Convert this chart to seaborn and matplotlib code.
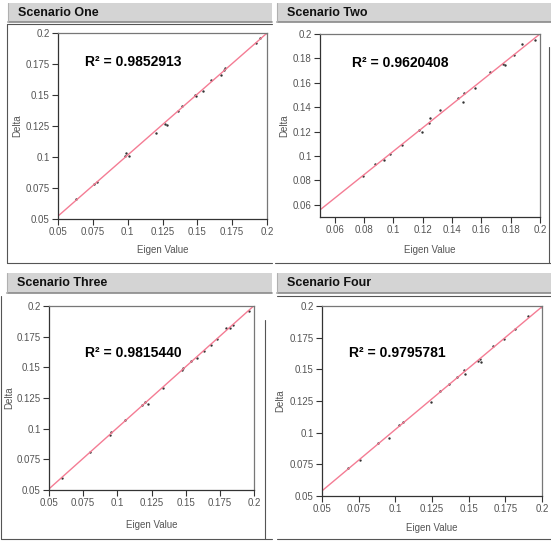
import matplotlib
matplotlib.use("Agg")
import matplotlib.pyplot as plt
from matplotlib.patches import Rectangle
from matplotlib.lines import Line2D
import seaborn as sns
import pandas as pd

sns.set_theme(style="white")
plt.rcParams['font.family'] = ['Liberation Sans', 'DejaVu Sans']

# ---------------- data ----------------
titles = ["Scenario One", "Scenario Two", "Scenario Three", "Scenario Four"]
r2_labels = ["0.9852913", "0.9620408", "0.9815440", "0.9795781"]

x1 = [0.063, 0.076, 0.078, 0.098, 0.099, 0.101, 0.120, 0.127, 0.128, 0.136, 0.139,
      0.148, 0.149, 0.154, 0.160, 0.167, 0.169, 0.170, 0.192, 0.195, 0.200]
y1 = [0.066, 0.078, 0.080, 0.101, 0.103, 0.101, 0.119, 0.127, 0.126, 0.137, 0.141,
      0.150, 0.149, 0.153, 0.162, 0.166, 0.170, 0.172, 0.192, 0.196, 0.200]

x2 = [0.0794, 0.0876, 0.0939, 0.0978, 0.106, 0.1177, 0.1197, 0.1248, 0.1246, 0.1319,
      0.144, 0.1477, 0.1483, 0.156, 0.1657, 0.1746, 0.1758, 0.182, 0.188, 0.1964]
y2 = [0.0837, 0.0938, 0.0968, 0.102, 0.1087, 0.121, 0.120, 0.131, 0.1267, 0.1381,
      0.1477, 0.1442, 0.152, 0.156, 0.1687, 0.1757, 0.1747, 0.1826, 0.1918, 0.1954]

x3 = [0.0592, 0.0798, 0.0944, 0.0957, 0.1056, 0.118, 0.1205, 0.1222, 0.1334, 0.1471,
      0.148, 0.1537, 0.1582, 0.1637, 0.1682, 0.1726, 0.1798, 0.1828, 0.1846, 0.196]
y3 = [0.0595, 0.0809, 0.0950, 0.0969, 0.1067, 0.1197, 0.1214, 0.1203, 0.1333, 0.1482,
      0.1493, 0.1553, 0.158, 0.1637, 0.1683, 0.1734, 0.1818, 0.1824, 0.1843, 0.1957]

x4 = [0.068, 0.0757, 0.0883, 0.0956, 0.1026, 0.1049, 0.1245, 0.1304, 0.1366, 0.1418,
      0.1469, 0.1475, 0.1562, 0.1576, 0.1587, 0.1669, 0.174, 0.1819, 0.1906, 0.200]
y4 = [0.0724, 0.0787, 0.0921, 0.096, 0.1063, 0.1081, 0.1242, 0.1326, 0.1387, 0.1437,
      0.1495, 0.1466, 0.1568, 0.1584, 0.1558, 0.1682, 0.1742, 0.1816, 0.1924, 0.1995]

ticks_025 = [0.05, 0.075, 0.1, 0.125, 0.15, 0.175, 0.2]
labels_025 = ["0.05", "0.075", "0.1", "0.125", "0.15", "0.175", "0.2"]
ticks_02 = [0.06, 0.08, 0.1, 0.12, 0.14, 0.16, 0.18, 0.2]
labels_02 = ["0.06", "0.08", "0.1", "0.12", "0.14", "0.16", "0.18", "0.2"]

xs = [x1, x2, x3, x4]
ys = [y1, y2, y3, y4]
xticks = [ticks_025, ticks_02, ticks_025, ticks_025]
xlabels = [labels_025, labels_02, labels_025, labels_025]
yticks = [ticks_025, ticks_02, ticks_025, ticks_025]
ylabels = [labels_025, labels_02, labels_025, labels_025]

# ---------------- layout ----------------
W, H = 551, 542
fig = plt.figure(figsize=(W / 100, H / 100), dpi=100)
fig.patch.set_facecolor("white")


def rect(l, t, r, b):
    return [l / W, 1 - b / H, (r - l) / W, (b - t) / H]


axes_px = [(58, 33, 267, 219), (320, 34, 540, 217), (49, 306, 254, 490), (322, 306, 542, 496)]
headers = [(8, 3, 272, 22), (277, 3, 551, 22), (7, 273, 272, 293), (277, 273, 551, 293)]
r2_pos = [(0.13, 0.845), (0.145, 0.84), (0.176, 0.745), (0.123, 0.753)]
ylab_pos = [-0.17, -0.14, -0.17, -0.165]
xlab_pos = [-0.14, -0.155, -0.165, -0.143]

# header bars
for (l, t, r, b), title in zip(headers, titles):
    fig.add_artist(Rectangle((l / W, 1 - b / H), (r - l) / W, (b - t) / H,
                             transform=fig.transFigure, facecolor="#d4d4d4",
                             edgecolor="none", zorder=0))
    fig.add_artist(Line2D([l / W, r / W], [1 - b / H, 1 - b / H], transform=fig.transFigure,
                          color="#8a8a8a", lw=1.2))
    fig.add_artist(Line2D([l / W, l / W], [1 - b / H, 1 - t / H], transform=fig.transFigure,
                          color="#b0b0b0", lw=0.8))
    fig.text((l + 10) / W, 1 - ((t + b) / 2) / H, title, fontsize=9, fontweight="bold",
             va="center", ha="left", color="#111111")

# decorative panel frame lines
frame_lines = [
    ((7, 24), (7, 263)), ((7, 24), (272, 24)), ((7, 263), (272, 263)),
    ((275, 263), (551, 263)), ((549, 47), (549, 263)),
    ((1, 296), (1, 539)), ((1, 539), (272, 539)), ((265, 320), (265, 539)),
    ((277, 296), (551, 296)), ((277, 539), (551, 539)),
]
for (a, b) in frame_lines:
    fig.add_artist(Line2D([a[0] / W, b[0] / W], [1 - a[1] / H, 1 - b[1] / H],
                          transform=fig.transFigure, color="#555555", lw=0.8))

for i in range(4):
    ax = fig.add_axes(rect(*axes_px[i]))
    df = pd.DataFrame({"Eigen Value": xs[i], "Delta": ys[i]})
    ax.set_xlim(0.05, 0.2)
    ax.set_ylim(0.05, 0.2)
    sns.regplot(data=df, x="Eigen Value", y="Delta", ax=ax, ci=None, truncate=False,
                scatter_kws=dict(s=3, color="black", linewidths=0),
                line_kws=dict(color="#f47c94", lw=1.0))
    ax.set_xlim(0.05, 0.2)
    ax.set_ylim(0.05, 0.2)
    ax.set_xticks(xticks[i])
    ax.set_xticklabels(xlabels[i])
    ax.set_yticks(yticks[i])
    ax.set_yticklabels(ylabels[i])
    ax.tick_params(axis="both", which="both", direction="out", length=4, width=0.8,
                   color="#333333", labelsize=7, labelcolor="#555555", pad=2,
                   bottom=True, left=True)
    ax.set_xlabel("Eigen Value", fontsize=7, color="#555555")
    ax.set_ylabel("Delta", fontsize=7, color="#555555")
    ax.xaxis.set_label_coords(0.5, xlab_pos[i])
    ax.yaxis.set_label_coords(ylab_pos[i], 0.5)
    for side in ["left", "bottom"]:
        ax.spines[side].set_color("#333333")
        ax.spines[side].set_linewidth(0.9)
    for side in ["top", "right"]:
        ax.spines[side].set_color("#777777")
        ax.spines[side].set_linewidth(0.9)
    ax.set_facecolor("white")
    ax.grid(False)
    ax.text(r2_pos[i][0], r2_pos[i][1], "R\u00b2 = " + r2_labels[i], transform=ax.transAxes,
            fontsize=10, fontweight="bold", color="black", va="center", ha="left")

fig.savefig("out.png", dpi=100, facecolor="white")
